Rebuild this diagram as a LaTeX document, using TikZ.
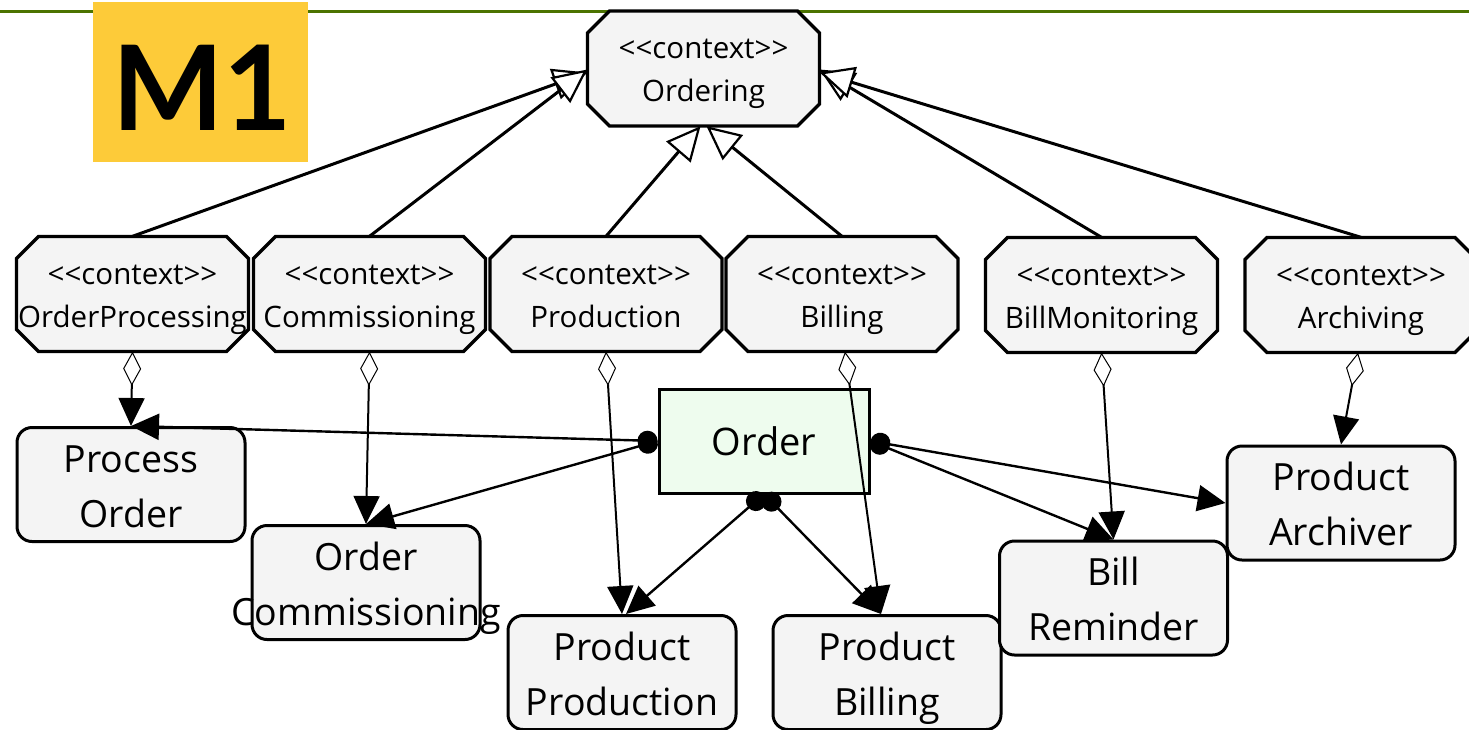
\documentclass[tikz,border=0pt]{standalone}
\usepackage{fontspec}
\setmainfont{Open Sans}
\newfontfamily\mfont{Lato}
\usetikzlibrary{arrows.meta}
\definecolor{boxgray}{HTML}{F4F4F4}
\definecolor{ordgreen}{HTML}{EEFCEE}
\definecolor{myellow}{HTML}{FDCB39}
\definecolor{topline}{HTML}{4B7300}
\newcommand\ctxbox[4]{%
  \draw[octa,shift={(#2,#3)}] (-116,-35.5)--(-94,-57.5)--(94,-57.5)--(116,-35.5)--(116,35.5)--(94,57.5)--(-94,57.5)--(-116,35.5)--cycle;
  \node[ctx] (#1) at (#2,#3) {\rule{0pt}{31pt}{<}{<}context{>}{>}\\#4\rule[-7.5pt]{0pt}{7.5pt}};}
\newcommand\twol[2]{\rule{0pt}{39.5pt}#1\\#2\rule[-9.5pt]{0pt}{9.5pt}}
\begin{document}
\begin{tikzpicture}[x=1pt,y=-1pt,
  octa/.style={draw, line width=3.4pt, fill=boxgray, line join=miter},
  ctx/.style={rectangle, minimum width=232pt, minimum height=115pt, inner sep=0pt, align=center, font=\fontsize{29.5}{43}\selectfont},
  comp/.style={rectangle, rounded corners=15pt, draw, line width=3pt, fill=boxgray, minimum width=228pt, minimum height=114pt, inner sep=0pt, align=center, font=\fontsize{37.5}{55}\selectfont},
  gen/.style={line width=3pt, -{Triangle[length=34pt,width=32pt,fill=white,line width=2.2pt]}},
  agg/.style={line width=2pt, {Diamond[length=34pt,width=18pt,fill=white,line width=1pt]}-{Triangle[length=28pt,width=26pt]}},
  use/.style={line width=2.4pt, {Circle[length=20pt]}-{Triangle[length=28pt,width=26pt]}},
]
\useasboundingbox[fill=white] (0,0) rectangle (1469,729);
\draw[topline, line width=3pt] (0,11.5) -- (1469,11.5);
\node[fill=myellow, minimum width=215pt, minimum height=160pt, inner sep=0pt] (m1) at (200.5,82) {};
\node[inner sep=0pt, font=\mfont\bfseries\fontsize{118}{118}\selectfont] (m1t) at (202,87.5) {M1};
\ctxbox{ord}{703.5}{68.5}{Ordering}
\ctxbox{op}{132.5}{294}{OrderProcessing}
\ctxbox{comm}{369.5}{294}{Commissioning}
\ctxbox{prod}{606}{294}{Production}
\ctxbox{bill}{842}{294}{Billing}
\ctxbox{bm}{1101.5}{295}{BillMonitoring}
\ctxbox{arch}{1361}{295}{Archiving}
\node[comp] (po) at (131,484.5) {\twol{Process}{Order}};
\node[comp] (oc) at (366,582.5) {\twol{Order}{\makebox[0pt]{Commissioning}}};
\node[comp] (pp) at (622,672.5) {\twol{Product}{Production}};
\node[comp] (pb) at (887,672.5) {\twol{Product}{Billing}};
\node[comp] (br) at (1113.5,598) {\twol{Bill}{Reminder}};
\node[comp] (pa) at (1341,503) {\twol{Product}{Archiver}};
\node[draw, line width=3pt, fill=ordgreen, minimum width=210pt, minimum height=104pt, inner sep=0pt, font=\fontsize{38}{54}\selectfont] (ordr) at (764,441) {Order};
\draw[gen] (op.north) -- ([yshift=-4pt]ord.west);
\draw[gen] (comm.north) -- ([yshift=-1pt]ord.west);
\draw[gen] (prod.north) -- ([xshift=-3pt]ord.south);
\draw[gen] (bill.north) -- ([xshift=3pt]ord.south);
\draw[gen] (bm.north) -- ([yshift=-1pt]ord.east);
\draw[gen] (arch.north) -- ([yshift=-4pt]ord.east);
\draw[agg] (op.south) -- (po.north);
\draw[agg] (comm.south) -- (oc.north);
\draw[agg] (prod.south) -- (pp.north);
\draw[agg] ([xshift=3pt]bill.south) -- ([xshift=-6pt]pb.north);
\draw[agg] (bm.south) -- (br.north);
\draw[agg] ([xshift=-3pt]arch.south) -- (pa.north);
\draw[use] (ordr.west) -- (po.north);
\draw[use] (ordr.west) -- (oc.north);
\draw[use] ([xshift=-0.5pt]ordr.south) -- ([xshift=4pt]pp.north);
\draw[use] ([xshift=0.5pt]ordr.south) -- ([xshift=-6pt]pb.north);
\draw[use] (ordr.east) -- (br.north);
\draw[use] (ordr.east) -- (pa.west);
\end{tikzpicture}
\end{document}
